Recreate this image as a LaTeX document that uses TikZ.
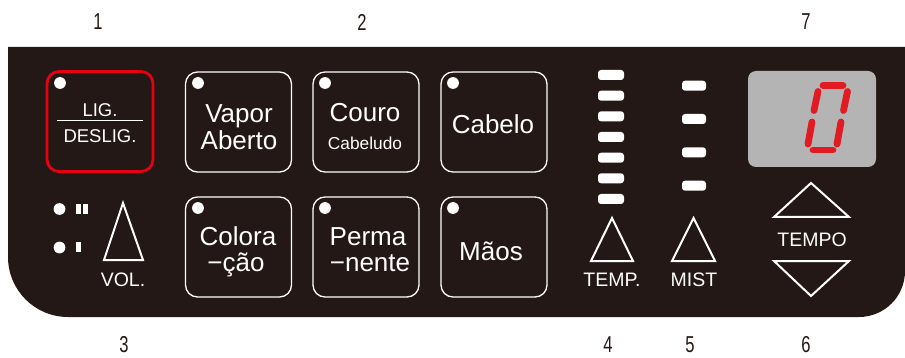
\documentclass[tikz,border=0pt]{standalone}
\usepackage{fontspec}
\setmainfont{Liberation Sans}
\newfontfamily\numfont[FakeStretch=0.72]{Liberation Sans}
\definecolor{panel}{HTML}{231815}
\definecolor{ledred}{HTML}{E60012}
\definecolor{segred}{HTML}{E01B22}
\definecolor{lcd}{HTML}{B4B4B4}
\begin{document}
\begin{tikzpicture}[x=1pt,y=-1pt,
  btn/.style={draw=white, line width=1.3pt, rounded corners=12pt, rectangle, minimum width=106pt, minimum height=100pt, inner sep=0pt},
  redbtn/.style={btn, draw=ledred, line width=2.8pt},
  led/.style={circle, fill=white, minimum size=11.8pt, inner sep=0pt},
  btxt/.style={text=white, font=\fontsize{26}{28}\selectfont, anchor=base, inner sep=0pt},
  stxt/.style={text=white, font=\fontsize{18.5}{20}\selectfont, anchor=base, inner sep=0pt},
  ltxt/.style={text=white, font=\fontsize{19.5}{21}\selectfont, anchor=base, inner sep=0pt},
  num/.style={text=panel, font=\numfont\fontsize{23}{25}\selectfont, inner sep=0pt},
  tri/.style={draw=white, line width=2pt, line join=miter},
  bar/.style={fill=white, rounded corners=3pt},
  seg/.style={draw=segred, line width=6.8pt, line cap=round}]
\useasboundingbox (0,0) rectangle (905,358);
% panel
\fill[panel] (8,47) -- (905,47) -- (905,200) [rounded corners=46pt] -- (905,317) -- (400,317) [rounded corners=60pt] -- (8,317) -- (8,200) [sharp corners] -- cycle;
% numbers
\node[num] (n1) at (98,22) {1};
\node[num] (n2) at (362,22) {2};
\node[num] (n7) at (806,22) {7};
\node[num] (n3) at (124,345) {3};
\node[num] (n4) at (608,345) {4};
\node[num] (n5) at (690,345) {5};
\node[num] (n6) at (806,345) {6};
% buttons
\node[redbtn] (onoff) at (100,121.5) {};
\node[btn] (vapor) at (238.5,122) {};
\node[btn] (color) at (238.5,247) {};
\node[btn] (couro) at (366,122) {};
\node[btn] (perma) at (366,247) {};
\node[btn] (cabelo) at (494,122) {};
\node[btn] (maos) at (494,247) {};
% leds
\node[led] (l1) at (60,83) {};
\node[led] (l2) at (198,83) {};
\node[led] (l3) at (198,208) {};
\node[led] (l4) at (325,83) {};
\node[led] (l5) at (325,208) {};
\node[led] (l6) at (453,83) {};
\node[led] (l7) at (453,208) {};
% button texts
\node[stxt] (tlig) at (100,117) {LIG.};
\draw[white, line width=1pt] (57,121) -- (143,121);
\node[stxt] (tdes) at (100,143) {DESLIG.};
\node[btxt] (tvap) at (239,123) {Vapor};
\node[btxt] (tabe) at (239,150) {Aberto};
\node[btxt] (tcou) at (365,122) {Couro};
\node[text=white, font=\fontsize{17.3}{19}\selectfont, anchor=base, inner sep=0pt] (tcab) at (365,150) {Cabeludo};
\node[btxt] (tcabelo) at (493,134) {Cabelo};
\node[btxt] (tcol) at (238,245) {Colora};
\node[btxt] (tcao) at (236,272) {−ção};
\node[btxt] (tper) at (368,245) {Perma};
\node[btxt] (tnen) at (370,272) {−nente};
\node[btxt] (tmao) at (491,260) {Mãos};
% volume
\node[led] (v2) at (59.5,209) {};
\node[led] (v1) at (59.5,247.5) {};
\fill[white] (76,204) rectangle (80.7,214);
\fill[white] (83.3,204) rectangle (88,214);
\fill[white] (76,241.7) rectangle (80.7,252.3);
\draw[tri] (123,203) -- (143,260) -- (104,260) -- cycle;
\node[ltxt] (tvol) at (123,287) {VOL.};
% temp bars
\foreach \y in {75,95.7,116.3,137,157.7,178.3,199} {
  \fill[bar] (598,\y-5) rectangle (624,\y+5);
}
\foreach \y in {85.7,119,152.3,185.7} {
  \fill[bar] (682,\y-5) rectangle (706,\y+5);
}
\draw[tri] (612,218) -- (633,261) -- (591,261) -- cycle;
\node[ltxt] (ttemp) at (612,287) {TEMP.};
\draw[tri] (693.5,218) -- (715,261) -- (672,261) -- cycle;
\node[ltxt] (tmist) at (694,287) {MIST};
% display
\node[rectangle, fill=lcd, rounded corners=8pt, minimum width=128pt, minimum height=96pt, inner sep=0pt] (disp) at (812,119) {};
\draw[seg] (823,85.5) -- (843,85.5);
\draw[seg] (847.5,91.5) -- (843.5,110.5);
\draw[seg] (818,91.5) -- (814,110.5);
\draw[seg] (812,122) -- (808,144);
\draw[seg] (841,122) -- (837,144);
\draw[seg] (813,150) -- (833,150);
% tempo
\draw[tri] (811,183) -- (849,217) -- (774,217) -- cycle;
\node[ltxt] (ttempo) at (812,247) {TEMPO};
\draw[tri] (774,261) -- (849,261) -- (811,296) -- cycle;
\end{tikzpicture}
\end{document}
